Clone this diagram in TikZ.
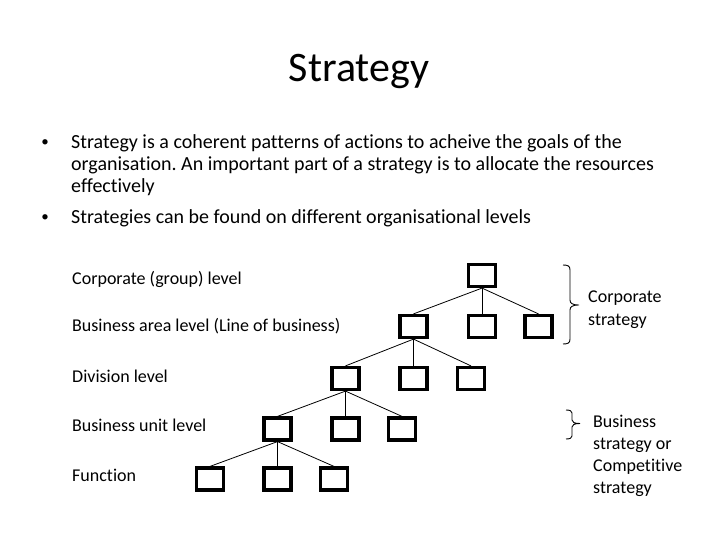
\documentclass[tikz,border=0pt]{standalone}
\usepackage{fontspec}
\setmainfont{Carlito}[Ligatures=NoCommon]
\frenchspacing
\begin{document}
\begin{tikzpicture}[x=1pt,y=-1pt,
  box/.style={draw,line width=3.2pt,minimum width=27pt,minimum height=22pt,inner sep=0pt},
  link/.style={line width=0.8pt},
  titletext/.style={font=\fontsize{42}{50}\selectfont,inner sep=0pt,anchor=base},
  bodytext/.style={font=\fontsize{20}{22}\selectfont,inner sep=0pt,anchor=base west},
  bulletmark/.style={font=\fontsize{15}{18}\selectfont,inner sep=0pt,anchor=base},
  lvl/.style={font=\fontsize{18}{22}\selectfont,inner sep=0pt,anchor=base west},
  bracepath/.style={line width=0.9pt}]
\path[use as bounding box, fill=white] (0,0) rectangle (720,540);

% title
\node[titletext] (title) at (359,82) {Strategy};

% bullets
\node[bulletmark] (bul1) at (45,147) {•};
\node[bodytext] (t1a) at (71,149) {Strategy is a coherent patterns of actions to acheive the goals of the};
\node[bodytext] (t1b) at (71,171) {organisation. An important part of a strategy is to allocate the resources};
\node[bodytext] (t1c) at (71,193) {effectively};
\node[bulletmark] (bul2) at (45,222) {•};
\node[bodytext] (t2a) at (71,224) {Strategies can be found on different organisational levels};

% level labels
\node[lvl] (l0) at (72,284) {Corporate (group) level};
\node[lvl] (l1) at (72,331) {Business area level (Line of business)};
\node[lvl] (l2) at (72,382) {Division level};
\node[lvl] (l3) at (72,431) {Business unit level};
\node[lvl] (l4) at (72,481) {Function};

% tree
\node[box] (c0) at (482,275.5) {};
\node[box] (b1) at (413.5,326.5) {};
\node[box] (b2) at (482,326.5) {};
\node[box] (b3) at (538.5,326.5) {};
\node[box] (d1) at (345.5,378.5) {};
\node[box] (d2) at (413.5,378.5) {};
\node[box] (d3) at (471,378.5) {};
\node[box] (u1) at (277.5,429) {};
\node[box] (u2) at (345.5,429) {};
\node[box] (u3) at (402,429) {};
\node[box] (f1) at (210,479) {};
\node[box] (f2) at (277.5,479) {};
\node[box] (f3) at (334,479) {};

\foreach \p/\c in {c0/b1,c0/b2,c0/b3,b1/d1,b1/d2,b1/d3,d1/u1,d1/u2,d1/u3,u1/f1,u1/f2,u1/f3}
  \draw[link] (\p.south) -- (\c.north);

% braces
\draw[bracepath] (563,265) .. controls (568,265) and (570,266) .. (570,270) -- (570,300)
  .. controls (570,303) and (572,305) .. (579,305)
  .. controls (572,305) and (570,307) .. (570,310) -- (570,339)
  .. controls (570,343) and (568,344) .. (563,344);
\draw[bracepath] (566,410) .. controls (570,410) and (572,411) .. (572,413) -- (572,420)
  .. controls (572,422) and (574,423.5) .. (580,423.5)
  .. controls (574,423.5) and (572,425) .. (572,427) -- (572,436)
  .. controls (572,438) and (570,439) .. (566,439);

% brace labels
\node[lvl] (cs1) at (588,302) {Corporate};
\node[lvl] (cs2) at (588,325) {strategy};
\node[lvl] (bs1) at (593,427) {Business};
\node[lvl] (bs2) at (593,449) {strategy or};
\node[lvl] (bs3) at (593,471) {Competitive};
\node[lvl] (bs4) at (593,493) {strategy};
\end{tikzpicture}
\end{document}
